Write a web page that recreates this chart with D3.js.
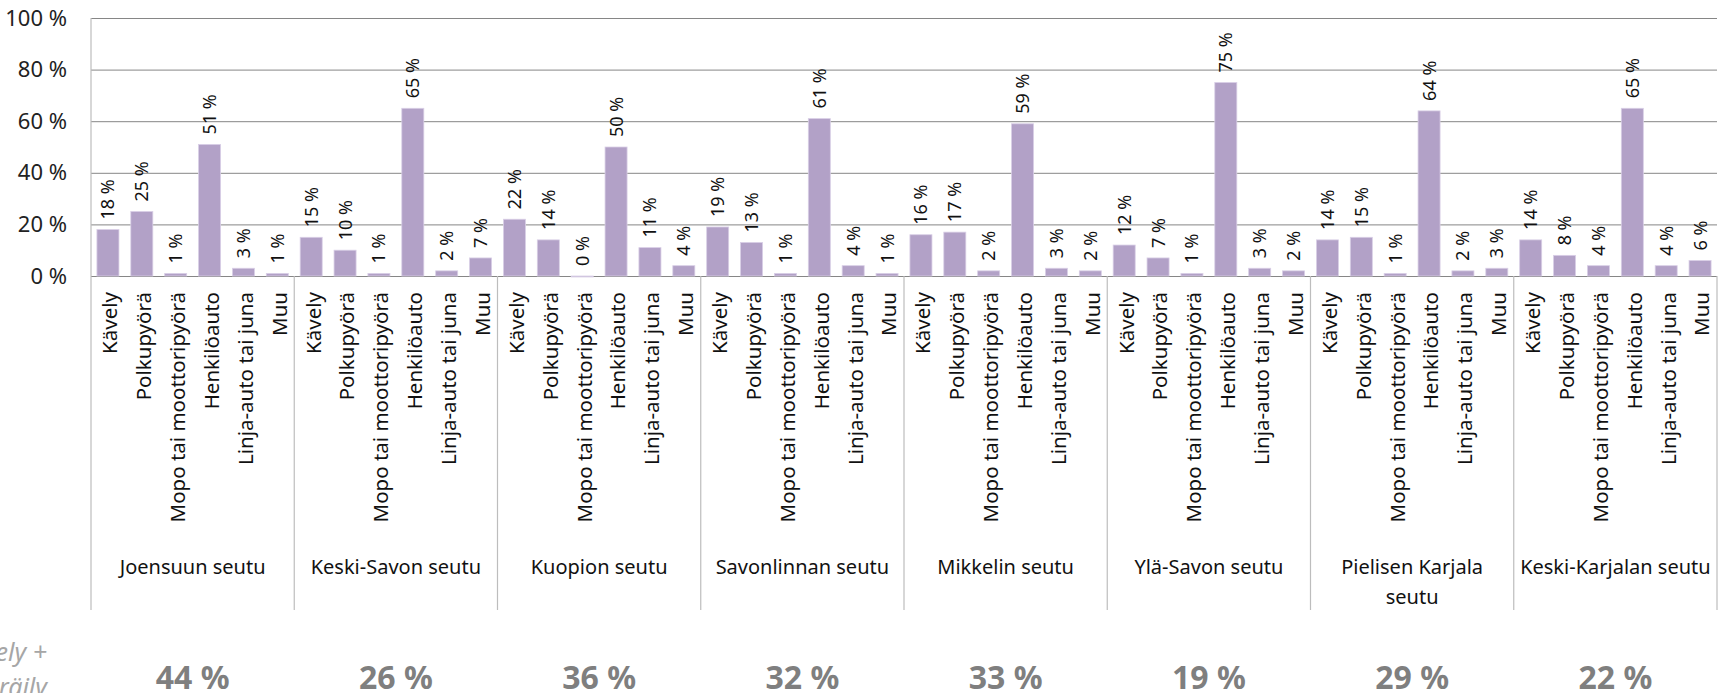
<!DOCTYPE html>
<html>
<head>
<meta charset="utf-8">
<script src="https://cdn.jsdelivr.net/npm/d3@7"></script>
<style>
  body { margin: 0; background: #fff; overflow: hidden; }
  text { font-family: "Noto Sans", "Open Sans", sans-serif; }
</style>
</head>
<body>
<div id="chart-area"></div>
<script>
// kulkutapa per seutu
var regions = ["Joensuun seutu", "Keski-Savon seutu", "Kuopion seutu", "Savonlinnan seutu",
  "Mikkelin seutu", "Ylä-Savon seutu", "Pielisen Karjala seutu", "Keski-Karjalan seutu"];
var modes = ["Kävely", "Polkupyörä", "Mopo tai moottoripyörä", "Henkilöauto", "Linja-auto tai juna", "Muu"];

var joensuu     = [18, 25, 1, 51, 3, 1];
var keskiSavo   = [15, 10, 1, 65, 2, 7];
var kuopio      = [22, 14, 0, 50, 11, 4];
var savonlinna  = [19, 13, 1, 61, 4, 1];
var mikkeli     = [16, 17, 2, 59, 3, 2];
var ylaSavo     = [12, 7, 1, 75, 3, 2];
var pielinen    = [14, 15, 1, 64, 2, 3];
var keskiKarjala = [14, 8, 4, 65, 4, 6];

// kävely + pyöräily yhteensä
var walkBike = [44, 26, 36, 32, 33, 19, 29, 22];
var yTicks = [0, 20, 40, 60, 80, 100];

var values = [joensuu, keskiSavo, kuopio, savonlinna, mikkeli, ylaSavo, pielinen, keskiKarjala];

// only this one wraps in the original
var breakAfter = {"Pielisen Karjala seutu": "Pielisen Karjala"};

var W = 1718, H = 693;
var margin = {left: 91, right: 1717, top: 18, bottom: 276};

var svg = d3.select("#chart-area")
  .append("svg")
    .attr("width", W)
    .attr("height", H);

var x0 = d3.scaleBand()
  .domain(regions)
  .range([margin.left, margin.right]);

var x1 = d3.scaleBand()
  .domain(modes)
  .range([0, x0.bandwidth()])
  .paddingInner(0.35)
  .paddingOuter(0.175);

var y = d3.scaleLinear()
  .domain([0, 100])
  .range([margin.bottom, margin.top]);

// gridlines + y axis
var yAxis = svg.append("g")
  .attr("transform", "translate(" + margin.left + ",0)")
  .call(d3.axisLeft(y)
    .tickValues(yTicks)
    .tickSize(-(margin.right - margin.left))
    .tickPadding(24)
    .tickFormat(function(d){ return d + " %"; }));
yAxis.select(".domain").remove();
yAxis.selectAll(".tick line").attr("stroke", "#868686").attr("stroke-width", 1);
yAxis.selectAll(".tick text")
  .attr("font-size", "22px")
  .attr("fill", "#222")
  .attr("font-family", "'Noto Sans', sans-serif");

// vertical axis line and category separators
var seps = regions.map(function(r){ return x0(r); }).concat([margin.right]);
svg.selectAll("line.sep")
  .data(seps)
  .enter().append("line")
    .attr("class", "sep")
    .attr("x1", function(d){ return d; })
    .attr("x2", function(d){ return d; })
    .attr("y1", function(d, i){ return i == 0 ? margin.top : margin.bottom; })
    .attr("y2", 610)
    .attr("stroke", "#bdbdbd")
    .attr("stroke-width", 1.2);

var groups = svg.selectAll("g.region")
  .data(regions)
  .enter().append("g")
    .attr("class", "region")
    .attr("transform", function(d){ return "translate(" + x0(d) + ",0)"; });

groups.selectAll("rect")
  .data(function(d, i){ return values[i].map(function(v, j){ return {mode: modes[j], value: v}; }); })
  .enter().append("rect")
    .attr("x", function(d){ return x1(d.mode); })
    .attr("y", function(d){ return y(d.value); })
    .attr("width", x1.bandwidth())
    .attr("height", function(d){ return Math.max(margin.bottom - y(d.value), 1); })
    .attr("fill", "#b2a1c7")
    .attr("stroke", "#d9cfe6")
    .attr("stroke-width", 0.8);

// data labels
groups.selectAll("text.val")
  .data(function(d, i){ return values[i].map(function(v, j){ return {mode: modes[j], value: v}; }); })
  .enter().append("text")
    .attr("class", "val")
    .attr("transform", function(d){
      return "translate(" + (x1(d.mode) + x1.bandwidth() / 2) + "," + (y(d.value) - 10) + ") rotate(-90)";
    })
    .attr("dy", "0.36em")
    .attr("font-size", "18px")
    .attr("fill", "#111")
    .text(function(d){ return d.value + " %"; });

// mode labels
groups.selectAll("text.mode")
  .data(modes)
  .enter().append("text")
    .attr("class", "mode")
    .attr("transform", function(d){
      return "translate(" + (x1(d) + x1.bandwidth() / 2 + 2) + ",292) rotate(-90)";
    })
    .attr("dy", "0.36em")
    .attr("text-anchor", "end")
    .attr("font-size", "20.5px")
    .attr("fill", "#111")
    .text(function(d){ return d; });

// region labels
groups.append("text")
  .attr("class", "reg")
  .attr("x", x0.bandwidth() / 2)
  .attr("y", 574)
  .attr("text-anchor", "middle")
  .attr("font-size", "20px")
  .attr("fill", "#111")
  .selectAll("tspan")
  .data(function(d){
    var first = breakAfter[d];
    return first ? [first, d.slice(first.length + 1)] : [d];
  })
  .enter().append("tspan")
    .attr("x", x0.bandwidth() / 2)
    .attr("dy", function(d, i){ return i == 0 ? 0 : 30; })
    .text(function(d){ return d; });

// totals row
groups.append("text")
  .attr("x", x0.bandwidth() / 2)
  .attr("y", 689)
  .attr("text-anchor", "middle")
  .attr("font-size", "32px")
  .attr("font-weight", "bold")
  .attr("fill", "#7f7f7f")
  .text(function(d, i){ return walkBike[i] + " %"; });

svg.append("text")
  .attr("x", 47)
  .attr("y", 661)
  .attr("text-anchor", "end")
  .attr("font-size", "25px")
  .attr("font-style", "italic")
  .attr("fill", "#a6a6a6")
  .selectAll("tspan")
  .data(["Kävely +", "pyöräily"])
  .enter().append("tspan")
    .attr("x", 47)
    .attr("dy", function(d, i){ return i == 0 ? 0 : 35; })
    .text(function(d){ return d; });
</script>
</body>
</html>
